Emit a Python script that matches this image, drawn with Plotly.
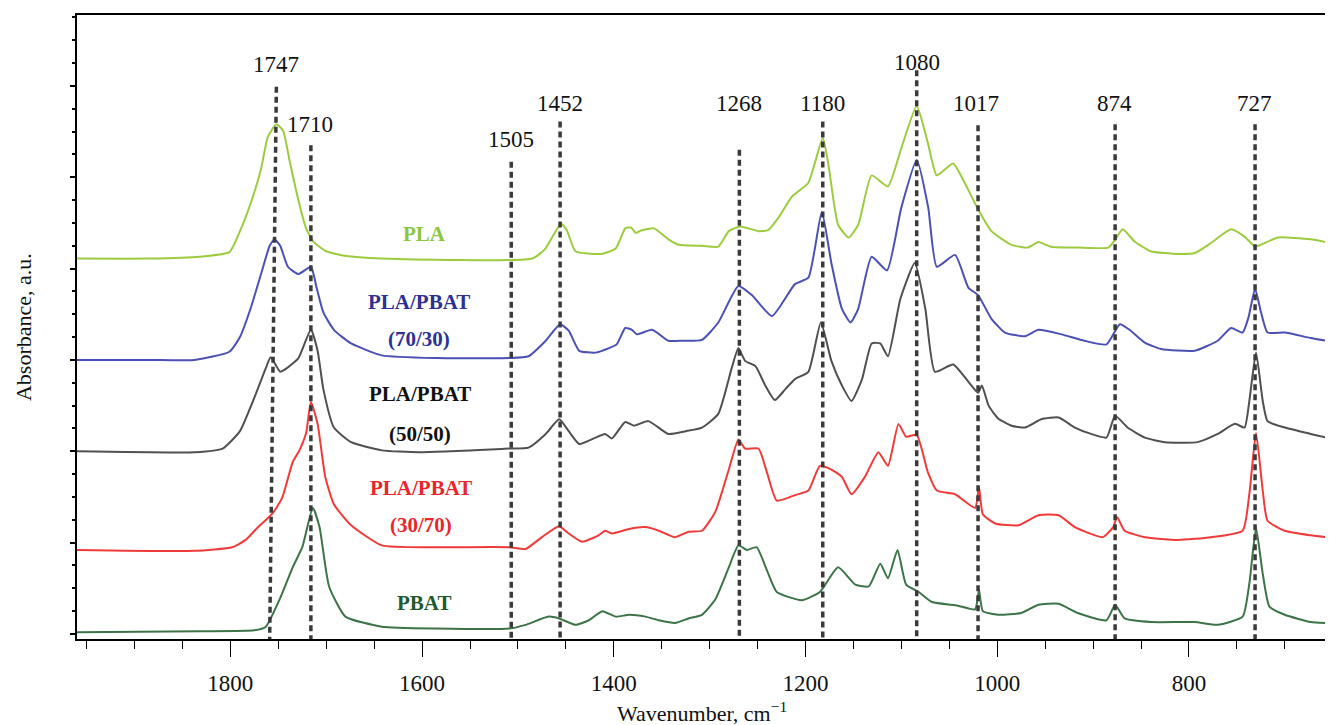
import plotly.graph_objects as go

# ---------------- data (wavenumber, cm-1 / absorbance, a.u. with vertical offsets) -------------
pla_wn = [1960, 1884, 1832, 1801, 1790, 1779, 1768, 1761, 1752, 1745, 1738, 1730, 1721, 1713, 1700, 1681,
          1642, 1485, 1472, 1455, 1449, 1440, 1413, 1398, 1388, 1382, 1377, 1371, 1358, 1343, 1332, 1308,
          1291, 1280, 1268, 1249, 1239, 1228, 1214, 1197, 1182, 1176, 1166, 1155, 1145, 1131, 1114, 1100,
          1084, 1072, 1063, 1046, 1034, 1020, 1006, 985, 968, 957, 944, 916, 884, 878, 869, 857, 840, 811,
          794, 777, 756, 742, 731, 725, 707, 673, 657]
pla_abs = [4.11, 4.11, 4.13, 4.18, 4.41, 4.71, 5.09, 5.44, 5.58, 5.51, 5.17, 4.79, 4.44, 4.29, 4.19, 4.14,
           4.11, 4.11, 4.21, 4.49, 4.42, 4.19, 4.16, 4.22, 4.44, 4.45, 4.39, 4.42, 4.44, 4.32, 4.26, 4.25,
           4.24, 4.41, 4.46, 4.41, 4.42, 4.56, 4.79, 4.94, 5.43, 5.13, 4.48, 4.34, 4.48, 5.02, 4.90, 5.32,
           5.78, 5.36, 5.02, 5.15, 4.94, 4.65, 4.41, 4.26, 4.23, 4.29, 4.24, 4.23, 4.23, 4.30, 4.43, 4.30, 4.19, 4.16,
           4.17, 4.28, 4.43, 4.35, 4.24, 4.26, 4.34, 4.32, 4.29]

b70_wn = [1960, 1884, 1838, 1801, 1790, 1779, 1768, 1759, 1754, 1748, 1740, 1729, 1716, 1710, 1703, 1692,
          1674, 1642, 1585, 1509, 1489, 1471, 1456, 1447, 1436, 1419, 1405, 1397, 1388, 1381, 1376, 1360,
          1343, 1329, 1308, 1291, 1270, 1256, 1235, 1211, 1197, 1183, 1173, 1162, 1153, 1145, 1131, 1115,
          1100, 1084, 1072, 1063, 1044, 1030, 1020, 1006, 992, 971, 957, 933, 909, 886, 872, 862, 846, 829,
          794, 770, 756, 744, 738, 731, 725, 718, 700, 673, 657]
b70_abs = [3.00, 3.00, 3.00, 3.09, 3.25, 3.56, 3.94, 4.25, 4.32, 4.25, 4.02, 3.94, 4.02, 3.79, 3.52, 3.33,
           3.18, 3.05, 3.02, 3.02, 3.04, 3.21, 3.39, 3.32, 3.10, 3.08, 3.13, 3.17, 3.35, 3.33, 3.28, 3.33,
           3.21, 3.21, 3.22, 3.41, 3.81, 3.71, 3.48, 3.83, 3.90, 4.62, 4.06, 3.56, 3.41, 3.56, 4.13, 3.98,
           4.67, 5.19, 4.67, 4.02, 4.15, 3.79, 3.71, 3.45, 3.30, 3.26, 3.33, 3.28, 3.21, 3.17, 3.39, 3.33, 3.19, 3.12,
           3.10, 3.21, 3.35, 3.30, 3.46, 3.78, 3.53, 3.30, 3.30, 3.24, 3.21]

b50_wn = [1960, 1837, 1808, 1790, 1776, 1763, 1758, 1748, 1741, 1729, 1716, 1709, 1703, 1692, 1674, 1642,
          1603, 1509, 1489, 1471, 1457, 1447, 1436, 1419, 1409, 1402, 1388, 1379, 1364, 1343, 1325, 1308,
          1291, 1277, 1270, 1263, 1252, 1242, 1232, 1221, 1211, 1197, 1184, 1173, 1162, 1152, 1141, 1131,
          1122, 1114, 1101, 1086, 1075, 1065, 1046, 1030, 1020, 1016, 1009, 999, 985, 971, 954, 936, 919,
          902, 886, 877, 864, 846, 825, 791, 770, 752, 742, 737, 730, 723, 718, 700, 673, 657]
b50_abs = [2.00, 1.99, 2.03, 2.22, 2.56, 2.91, 3.03, 2.87, 2.91, 3.02, 3.33, 3.10, 2.68, 2.26, 2.10, 2.01,
           1.99, 2.03, 2.04, 2.19, 2.35, 2.22, 2.08, 2.15, 2.19, 2.14, 2.32, 2.28, 2.33, 2.19, 2.22, 2.26,
           2.41, 2.91, 3.13, 2.99, 2.93, 2.72, 2.56, 2.68, 2.79, 2.87, 3.41, 2.99, 2.72, 2.55, 2.79, 3.18,
           3.18, 3.04, 3.67, 4.06, 3.56, 2.87, 2.95, 2.76, 2.64, 2.72, 2.50, 2.36, 2.28, 2.26, 2.35, 2.37, 2.26,
           2.19, 2.15, 2.39, 2.26, 2.15, 2.10, 2.10, 2.19, 2.30, 2.26, 2.55, 3.08, 2.55, 2.33, 2.26, 2.19, 2.15]

b30_wn = [1960, 1838, 1798, 1784, 1772, 1756, 1746, 1735, 1728, 1721, 1716, 1709, 1701, 1692, 1674, 1642,
          1585, 1509, 1492, 1475, 1457, 1447, 1433, 1416, 1409, 1402, 1384, 1367, 1353, 1336, 1322, 1308,
          1294, 1280, 1270, 1263, 1249, 1240, 1230, 1211, 1197, 1185, 1173, 1162, 1152, 1138, 1124, 1114,
          1103, 1095, 1084, 1072, 1063, 1044, 1023, 1019, 1015, 1002, 978, 957, 936, 919, 890, 879, 875,
          867, 846, 811, 777, 744, 737, 730, 723, 718, 700, 673, 657]
b30_abs = [0.92, 0.91, 0.95, 1.03, 1.16, 1.32, 1.49, 1.88, 2.01, 2.20, 2.54, 2.30, 1.72, 1.42, 1.19, 0.97,
           0.95, 0.95, 0.93, 1.06, 1.18, 1.10, 1.01, 1.08, 1.13, 1.10, 1.15, 1.17, 1.13, 1.06, 1.12, 1.13,
           1.34, 1.80, 2.13, 2.03, 2.03, 1.76, 1.46, 1.52, 1.57, 1.84, 1.80, 1.72, 1.53, 1.72, 1.99, 1.84,
           2.30, 2.16, 2.18, 1.76, 1.57, 1.53, 1.38, 1.61, 1.31, 1.21, 1.19, 1.30, 1.30, 1.17, 1.06, 1.17, 1.28,
           1.13, 1.06, 1.03, 1.06, 1.13, 1.53, 2.20, 1.57, 1.24, 1.13, 1.08, 1.06]

pbat_wn = [1960, 1832, 1775, 1763, 1749, 1735, 1725, 1714, 1707, 1697, 1680, 1642, 1585, 1509, 1492, 1468,
           1457, 1440, 1426, 1412, 1398, 1384, 1367, 1353, 1336, 1322, 1308, 1294, 1280, 1270, 1261, 1251,
           1240, 1230, 1204, 1185, 1166, 1148, 1134, 1122, 1114, 1104, 1095, 1082, 1068, 1041, 1023, 1019,
           1015, 999, 975, 957, 936, 916, 886, 877, 867, 839, 794, 770, 744, 737, 730, 723, 716, 700, 673, 657]
pbat_abs = [0.02, 0.03, 0.04, 0.08, 0.37, 0.73, 0.95, 1.38, 1.17, 0.52, 0.19, 0.08, 0.06, 0.06, 0.10, 0.19,
            0.17, 0.10, 0.15, 0.25, 0.19, 0.21, 0.19, 0.15, 0.12, 0.17, 0.21, 0.38, 0.73, 0.97, 0.92, 0.95,
            0.69, 0.46, 0.37, 0.46, 0.73, 0.54, 0.52, 0.77, 0.61, 0.92, 0.54, 0.46, 0.35, 0.31, 0.27, 0.48,
            0.25, 0.21, 0.23, 0.32, 0.33, 0.23, 0.15, 0.32, 0.17, 0.13, 0.13, 0.10, 0.19, 0.55, 1.16, 0.66, 0.30,
            0.21, 0.13, 0.12]

series_names = ["PLA", "PLA/PBAT (70/30)", "PLA/PBAT (50/50)", "PLA/PBAT (30/70)", "PBAT"]

# peak marker lines: label text, line position (top, bottom), line top height, label position
peak_labels = ["1747", "1710", "1505", "1452", "1268", "1180", "1080", "1017", "874", "727"]
peak_line_top_wn = [1752, 1716, 1507, 1456, 1269, 1182, 1084, 1020, 877, 731]
peak_line_bot_wn = [1759, 1716, 1507, 1456, 1269, 1182, 1084, 1020, 877, 731]
peak_line_top = [5.99, 5.35, 5.17, 5.61, 5.30, 5.61, 6.17, 5.57, 5.58, 5.58]
peak_label_wn = [1752, 1717, 1507, 1456, 1269, 1182, 1084, 1022, 878, 732]
peak_label_y = [6.23, 5.58, 5.41, 5.81, 5.81, 5.81, 6.26, 5.81, 5.81, 5.81]

# series text labels inside the plot
tag_text = ["PLA", "PLA/PBAT", "(70/30)", "PLA/PBAT", "(50/50)", "PLA/PBAT", "(30/70)", "PBAT"]
tag_wn = [1598, 1603, 1603, 1602, 1602, 1601, 1601, 1598]
tag_y = [4.38, 3.63, 3.23, 2.63, 2.19, 1.60, 1.19, 0.34]

# ---------------- styling ----------------
line_colors = ["#9ccc3e", "#4b50b3", "#505050", "#f03a3a", "#3c7448"]
tag_colors = ["#8cc63f", "#2e3192", "#2e3192", "#111111", "#111111", "#e8262b", "#e8262b", "#1f5a2e"]
SERIF = "Liberation Serif"

fig = go.Figure()
all_x = [pla_wn, b70_wn, b50_wn, b30_wn, pbat_wn]
all_y = [pla_abs, b70_abs, b50_abs, b30_abs, pbat_abs]
for name, xs, ys, col in zip(series_names, all_x, all_y, line_colors):
    fig.add_trace(go.Scatter(x=xs, y=ys, mode="lines", name=name,
                             line=dict(color=col, width=2, shape="spline", smoothing=0.5),
                             showlegend=False))

for xt, xb, yt in zip(peak_line_top_wn, peak_line_bot_wn, peak_line_top):
    fig.add_shape(type="line", xref="x", yref="y", x0=xt, y0=yt, x1=xb, y1=-0.055,
                  line=dict(color="#3a3a3a", width=3.5, dash="6px,4px"), layer="above")

annotations = []
for t, xw, yv in zip(peak_labels, peak_label_wn, peak_label_y):
    annotations.append(dict(x=xw, y=yv, xref="x", yref="y", text=t, showarrow=False,
                            font=dict(family=SERIF, size=23, color="#111111"),
                            xanchor="center", yanchor="middle"))
for t, xw, yv, c in zip(tag_text, tag_wn, tag_y, tag_colors):
    annotations.append(dict(x=xw, y=yv, xref="x", yref="y", text="<b>" + t + "</b>", showarrow=False,
                            font=dict(family=SERIF, size=21, color=c),
                            xanchor="center", yanchor="middle"))
annotations.append(dict(x=-0.0432, y=0.5, xref="paper", yref="paper", text="Absorbance, a.u.",
                        textangle=-90, showarrow=False, font=dict(family=SERIF, size=22, color="#111111"),
                        xanchor="center", yanchor="middle"))
annotations.append(dict(x=0.5, y=-0.1166, xref="paper", yref="paper", text="Wavenumber, cm<sup>\u22121</sup>",
                        showarrow=False, font=dict(family=SERIF, size=22, color="#111111"),
                        xanchor="center", yanchor="middle"))

# the page places the figure 8px from the top-left corner, so size/margins compensate for that
fig.update_layout(
    width=1325, height=717,
    margin=dict(l=69, r=5, t=5, b=86),
    paper_bgcolor="white", plot_bgcolor="white",
    annotations=annotations,
    xaxis=dict(range=[1960, 657], showgrid=False, zeroline=False,
               showline=True, linecolor="black", linewidth=1.5, mirror=True,
               ticks="outside", ticklen=16, tickwidth=1.2, tickcolor="black",
               tick0=0, dtick=200, ticklabelstandoff=7,
               minor=dict(dtick=50, ticks="outside", ticklen=8, tickwidth=1.2, tickcolor="black"),
               tickfont=dict(family=SERIF, size=23, color="#111111")),
    yaxis=dict(range=[-0.055, 6.776], showgrid=False, zeroline=False,
               showline=True, linecolor="black", linewidth=1.5, mirror=True,
               ticks="outside", ticklen=5, tickwidth=2, tickcolor="black",
               tick0=0, dtick=1, showticklabels=False,
               minor=dict(dtick=0.25, ticks="outside", ticklen=3, tickwidth=1.5, tickcolor="black")),
)

fig.write_html("out.html")
